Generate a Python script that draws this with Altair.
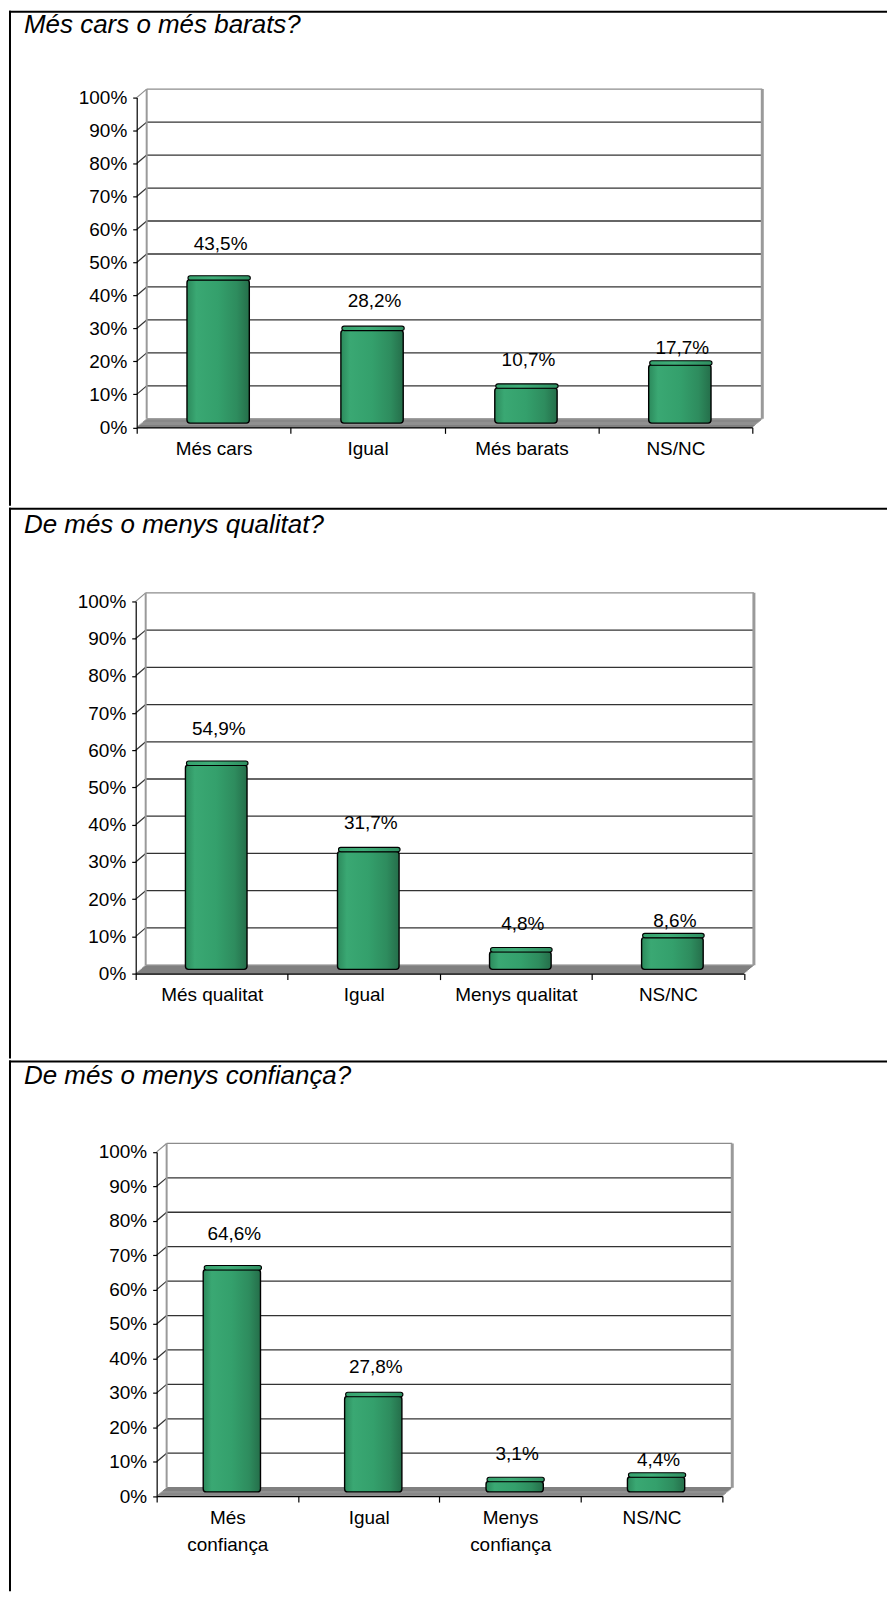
import altair as alt
import pandas as pd

# ---------------- data ----------------
ticks_pct = [0, 10, 20, 30, 40, 50, 60, 70, 80, 90, 100]

title_preu = "Més cars o més barats?"
cats_preu = ["Més cars", "Igual", "Més barats", "NS/NC"]
vals_preu = [43.5, 28.2, 10.7, 17.7]

title_qualitat = "De més o menys qualitat?"
cats_qualitat = ["Més qualitat", "Igual", "Menys qualitat", "NS/NC"]
vals_qualitat = [54.9, 31.7, 4.8, 8.6]

title_confianca = "De més o menys confiança?"
cats_confianca = ["Més confiança", "Igual", "Menys confiança", "NS/NC"]
vals_confianca = [64.6, 27.8, 3.1, 4.4]

# ---------------- style ----------------
FONT = "Liberation Sans, Arial, Helvetica, sans-serif"
FS = 19
W = 880
DX, DY = 10, 8.5            # 3D depth of the wall / floor
LABEL_LIFT = [40, 33, 32, 21]
BAR_FILL = alt.Gradient(
    gradient="linear", x1=0, x2=1, y1=0, y2=0,
    stops=[
        alt.GradientStop(color="#2c8a5c", offset=0),
        alt.GradientStop(color="#3aa873", offset=0.15),
        alt.GradientStop(color="#34a06c", offset=0.5),
        alt.GradientStop(color="#2e8c5e", offset=0.8),
        alt.GradientStop(color="#256e4a", offset=1),
    ],
)
CAP_FILL = alt.Gradient(
    gradient="linear", x1=0, x2=1, y1=0, y2=0,
    stops=[
        alt.GradientStop(color="#36a16d", offset=0),
        alt.GradientStop(color="#3fae79", offset=0.4),
        alt.GradientStop(color="#2f8f61", offset=1),
    ],
)

LAYOUT = [
    dict(title=title_preu, cats=cats_preu, vals=vals_preu, H=496,
         x0=128, x1=745, y0=417.5, y100=87, ty=22, wrap=False),
    dict(title=title_qualitat, cats=cats_qualitat, vals=vals_qualitat, H=552,
         x0=127, x1=736.6, y0=467, y100=93.9, ty=25, wrap=False),
    dict(title=title_confianca, cats=cats_confianca, vals=vals_confianca, H=532,
         x0=148, x1=714.9, y0=436.7, y100=91.7, ty=24, wrap=True),
]


def panel(p):
    cats, vals, H = p["cats"], p["vals"], p["H"]
    x0, x1, y0, y100 = p["x0"], p["x1"], p["y0"], p["y100"]
    df = pd.DataFrame({
        "c": cats,
        "v": vals,
        "z": [0] * len(cats),
        "i": list(range(len(cats))),
        "lab": [f"{v:.1f}".replace(".", ",") + "%" for v in vals],
    })
    tk = pd.DataFrame({"v": ticks_pct})

    xs = alt.Scale(domain=cats, range=[x0, x1], paddingInner=0, paddingOuter=0)
    ys = alt.Scale(domain=[0, 100], range=[y0, y100], nice=False)

    xax_kw = dict(
        orient="bottom", offset=y0 - H, tickBand="extent", tickSize=6,
        tickColor="black", domainColor="black", domainWidth=1.2, tickWidth=1.2,
        labelAngle=0, labelPadding=6, labelFont=FONT, labelFontSize=FS,
        labelColor="black", labelOverlap=False, labelFlush=False, labelLimit=300,
        grid=False, zindex=1, title=None,
    )
    if p["wrap"]:
        xax_kw["labelExpr"] = "split(datum.label, ' ')"
        xax_kw["labelLineHeight"] = 27.6
    xax = alt.Axis(**xax_kw)
    yax = alt.Axis(
        orient="left", offset=-x0, values=ticks_pct, labelExpr="datum.value + '%'",
        tickSize=4, tickColor="black", domainColor="black", domainWidth=1.2,
        tickWidth=1.2, labelPadding=6, labelFont=FONT, labelFontSize=FS,
        labelColor="black", labelOverlap=False, labelFlush=False, grid=False,
        zindex=1, title=None,
    )
    X = alt.X("c:N", scale=xs, axis=xax, sort=cats, title=None)
    Y = alt.Y("v:Q", scale=ys, axis=yax, title=None)

    one = pd.DataFrame({"t": [p["title"]]})
    border_top = alt.Chart(one).mark_rule(color="black", strokeWidth=2).encode(
        x=alt.value(0), x2=alt.value(W), y=alt.value(1))
    border_left = alt.Chart(one).mark_rule(color="black", strokeWidth=2).encode(
        x=alt.value(1), y=alt.value(0), y2=alt.value(H))
    title = alt.Chart(one).mark_text(
        align="left", baseline="alphabetic", font=FONT, fontSize=26,
        fontStyle="italic", color="black").encode(
        x=alt.value(15), y=alt.value(p["ty"]), text="t:N")

    # floor: grey parallelogram built from thin slanted strips
    zero = pd.DataFrame({"v": [0]})
    floor = []
    nstrip = 9
    for k in range(nstrip):
        f = k / (nstrip - 1)
        floor.append(
            alt.Chart(zero).mark_rule(
                color="#808080", strokeWidth=1.4, yOffset=-f * DY).encode(
                x=alt.value(x0 + f * DX), x2=alt.value(x1 + f * DX), y=Y))

    # back wall gridlines
    grid = alt.Chart(tk).transform_filter("datum.v > 0").mark_rule(
        yOffset=-DY, strokeWidth=1.3).encode(
        x=alt.value(x0 + DX), x2=alt.value(x1 + DX), y=Y,
        color=alt.condition("datum.v == 100", alt.value("#8c8c8c"), alt.value("#333333")))
    # side wall diagonals
    diag = alt.Chart(tk).transform_filter("datum.v > 0").mark_rule(
        y2Offset=-DY, strokeWidth=1.2).encode(
        x=alt.value(x0), x2=alt.value(x0 + DX), y=Y, y2=alt.Y2("v:Q"),
        color=alt.condition("datum.v == 100", alt.value("#8c8c8c"), alt.value("#333333")))
    span = pd.DataFrame({"v": [0], "top": [100]})
    wall_l = alt.Chart(span).mark_rule(
        color="#9a9a9a", strokeWidth=2, yOffset=-DY, y2Offset=-DY).encode(
        x=alt.value(x0 + DX), y=Y, y2=alt.Y2("top:Q"))
    wall_r = alt.Chart(span).mark_rule(
        color="#9a9a9a", strokeWidth=3, yOffset=-DY, y2Offset=-DY).encode(
        x=alt.value(x1 + DX), y=Y, y2=alt.Y2("top:Q"))

    base = alt.Chart(df)
    bars = base.mark_bar(
        width=alt.RelativeBandSize(0.405), fill=BAR_FILL, stroke="black",
        strokeWidth=1.4, cornerRadius=3,
        xOffset=DX / 2 - 0.5, yOffset=-DY / 2, y2Offset=-DY / 2).encode(
        x=X, y=Y, y2=alt.Y2("z:Q"))
    caps = base.mark_bar(
        width=alt.RelativeBandSize(0.405), fill=CAP_FILL, stroke="black",
        strokeWidth=1.1, cornerRadius=3, xOffset=DX / 2 + 0.5,
        yOffset=-DY / 2 - 4, y2Offset=-DY / 2 + 0.5).encode(
        x=X, y=Y, y2=alt.Y2("v:Q"))

    labels = []
    for i in range(len(cats)):
        labels.append(
            base.transform_filter(f"datum.i == {i}").mark_text(
                font=FONT, fontSize=FS, color="black", baseline="middle",
                dx=7, dy=-LABEL_LIFT[i]).encode(x=X, y=Y, text="lab:N"))

    return alt.layer(
        border_top, border_left, title, *floor, grid, diag, wall_l, wall_r,
        bars, caps, *labels,
    ).properties(width=W, height=H)


chart = alt.vconcat(*[panel(p) for p in LAYOUT], spacing=0).properties(
    padding=0, background="white"
).configure_view(stroke=None)

chart.save("out.html", embed_options={"renderer": "svg", "actions": False})
